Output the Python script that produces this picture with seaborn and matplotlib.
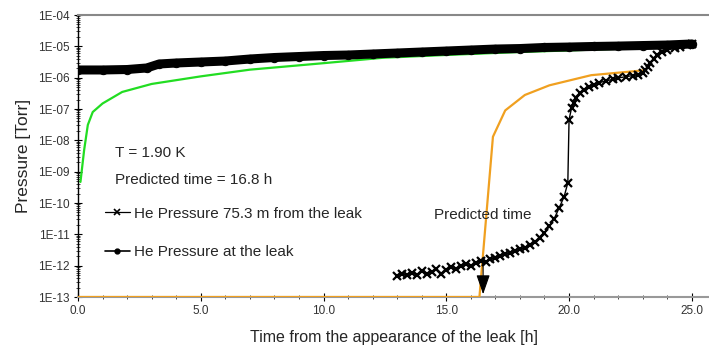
import numpy as np
import pandas as pd
import matplotlib
matplotlib.use("Agg")
import matplotlib.pyplot as plt
import matplotlib.ticker as mticker
from matplotlib.lines import Line2D
import seaborn as sns

# He pressure at the leak (measured, dense black dots)
leak_t = [0, 1, 2, 2.8, 3.3, 4, 5, 6, 7, 8, 9, 10, 11, 12, 13, 14, 15, 16, 17,
          18, 19, 20, 21, 22, 23, 24, 25]
leak_p = [1.76e-6, 1.76e-6, 1.82e-6, 2.04e-6, 2.73e-6, 2.94e-6, 3.16e-6, 3.4e-6,
          3.94e-6, 4.4e-6, 4.73e-6, 5.09e-6, 5.28e-6, 5.69e-6, 6.12e-6, 6.59e-6,
          7.09e-6, 7.63e-6, 8.2e-6, 8.5e-6, 9.2e-6, 9.5e-6, 9.9e-6, 1.02e-5,
          1.06e-5, 1.1e-5, 1.19e-5]

# He pressure 75.3 m from the leak (measured, x markers)
far_t = [13.0, 13.2, 13.4, 13.6, 13.8, 14.0, 14.2, 14.4, 14.6, 14.8, 15.0, 15.2,
         15.4, 15.6, 15.8, 16.0, 16.2, 16.4, 16.6, 16.8, 17.0, 17.2, 17.4, 17.6,
         17.8, 18.0, 18.2, 18.4, 18.6, 18.8, 19.0, 19.2, 19.4, 19.6, 19.8, 19.95,
         20.0, 20.1, 20.2, 20.3, 20.45, 20.6, 20.8, 21.0, 21.2, 21.5, 21.8, 22.0,
         22.3, 22.6, 22.8, 23.0, 23.1, 23.2, 23.3, 23.45, 23.6, 23.8, 24.0, 24.3,
         24.5, 24.8, 25.0]
far_p = [4.8e-13, 5.6e-13, 5.0e-13, 6.0e-13, 5.2e-13, 6.6e-13, 5.5e-13, 6.3e-13,
         7.9e-13, 5.6e-13, 7.1e-13, 8.9e-13, 7.6e-13, 1.0e-12, 1.12e-12, 9.5e-13,
         1.26e-12, 1.41e-12, 1.32e-12, 1.66e-12, 1.78e-12, 2.1e-12, 2.4e-12,
         2.5e-12, 3.0e-12, 3.3e-12, 3.8e-12, 4.5e-12, 5.6e-12, 7.6e-12, 1.12e-11,
         1.8e-11, 3.2e-11, 7.1e-11, 1.6e-10, 4.4e-10, 4.5e-8, 1.07e-7, 1.6e-7,
         2.2e-7, 3.2e-7, 4.1e-7, 5.0e-7, 6.0e-7, 6.8e-7, 7.9e-7, 8.9e-7, 9.8e-7,
         1.07e-6, 1.17e-6, 1.22e-6, 1.41e-6, 1.76e-6, 2.2e-6, 2.95e-6, 4.0e-6,
         5.2e-6, 6.6e-6, 7.6e-6, 8.7e-6, 9.5e-6, 1.07e-5, 1.17e-5]

# Predicted pressure at the leak (green)
pred_leak_t = [0.1, 0.25, 0.4, 0.6, 1.0, 1.8, 3, 5, 7, 10, 12.4, 15, 18, 20, 23.1]
pred_leak_p = [4.7e-10, 4.9e-9, 3.1e-8, 8e-8, 1.5e-7, 3.5e-7, 6.3e-7, 1.1e-6,
               1.8e-6, 2.9e-6, 4.3e-6, 5.3e-6, 6.6e-6, 7.4e-6, 8.9e-6]

# Predicted pressure 75.3 m from the leak (orange)
pred_far_t = [0, 16.35, 16.9, 17.4, 18.2, 19.2, 20.9, 23.0]
pred_far_p = [1e-13, 1e-13, 1.3e-8, 9e-8, 2.8e-7, 5.7e-7, 1.2e-6, 1.7e-6]

y_exponents = list(range(-13, -3))
x_ticks = [0.0, 5.0, 10.0, 15.0, 20.0, 25.0]
legend_labels = ["He Pressure 75.3 m from the leak", "He Pressure at the leak"]

sns.set_theme(style="white")
plt.rcParams["font.family"] = ["Liberation Sans", "DejaVu Sans"]

fig = plt.figure(figsize=(7.09, 3.47), dpi=100)
ax = fig.add_axes([78 / 709, 1 - 297 / 347, 1 - 78 / 709, (297 - 15) / 347])

sns.lineplot(x=pred_far_t, y=pred_far_p, ax=ax, color="#f0a020", lw=1.6,
             estimator=None, sort=False, zorder=3)
sns.lineplot(x=pred_leak_t, y=pred_leak_p, ax=ax, color="#22dd22", lw=1.6,
             estimator=None, sort=False, zorder=3)
sns.lineplot(x=leak_t, y=leak_p, ax=ax, color="black", lw=6.5, marker="o",
             markersize=6, markeredgecolor="black", markerfacecolor="black",
             estimator=None, sort=False, zorder=4)
sns.lineplot(x=far_t, y=far_p, ax=ax, color="black", lw=1.0, marker="x",
             markersize=6, markeredgewidth=1.6, markeredgecolor="black",
             estimator=None, sort=False, zorder=4)

ax.set_yscale("log")
ax.set_ylim(1e-13, 1e-4)
ax.set_xlim(0, 25.7)
ax.set_yticks([10.0 ** e for e in y_exponents])
ax.set_yticklabels([f"1E{e:03d}" for e in y_exponents])
ax.yaxis.set_minor_locator(mticker.LogLocator(base=10, subs=np.arange(2, 10)))
ax.yaxis.set_minor_formatter(mticker.NullFormatter())
ax.set_xticks(x_ticks)
ax.set_xticklabels([f"{v:.1f}" for v in x_ticks])
ax.xaxis.set_minor_locator(mticker.MultipleLocator(1.0))

ax.tick_params(axis="both", which="major", direction="inout", length=6, width=0.8,
               labelsize=8.5, colors="black", pad=3, left=True, bottom=True)
ax.tick_params(axis="both", which="minor", direction="inout", length=3, width=0.6,
               left=True, bottom=True)
for lab in ax.get_xticklabels() + ax.get_yticklabels():
    lab.set_color("#333333")

ax.spines["right"].set_visible(False)
ax.spines["left"].set_color("black")
ax.spines["left"].set_linewidth(1.0)
ax.spines["top"].set_color("#888888")
ax.spines["top"].set_linewidth(1.5)
ax.spines["bottom"].set_color("#999999")
ax.spines["bottom"].set_linewidth(1.5)

ax.set_xlabel("Time from the appearance of the leak [h]", fontsize=11.5, labelpad=9)
ax.set_ylabel("Pressure [Torr]", fontsize=12.5, labelpad=5)

ax.text(1.5, 10 ** -8.42, "T = 1.90 K", fontsize=11, va="center", ha="left")
ax.text(1.5, 10 ** -9.27, "Predicted time = 16.8 h", fontsize=11, va="center", ha="left")

h1 = Line2D([], [], color="black", lw=0.9, marker="x", markersize=4, markeredgewidth=1.2)
h2 = Line2D([], [], color="black", lw=1.2, marker="o", markersize=3.5)
ax.legend([h1, h2], legend_labels,
          loc="upper left", bbox_to_anchor=(0.043, 0.32), frameon=False,
          fontsize=11, handlelength=1.6, handletextpad=0.3, labelspacing=1.6,
          borderaxespad=0, borderpad=0)

ax.text(16.5, 10 ** -10.38, "Predicted time", fontsize=11, ha="center", va="center")
ax.annotate("", xy=(16.5, 1e-13), xytext=(16.5, 10 ** -11.65),
            arrowprops=dict(arrowstyle="-|>,head_width=0.35,head_length=1.0",
                            color="black", lw=0.8), zorder=5)

fig.savefig("out.png", dpi=100)
